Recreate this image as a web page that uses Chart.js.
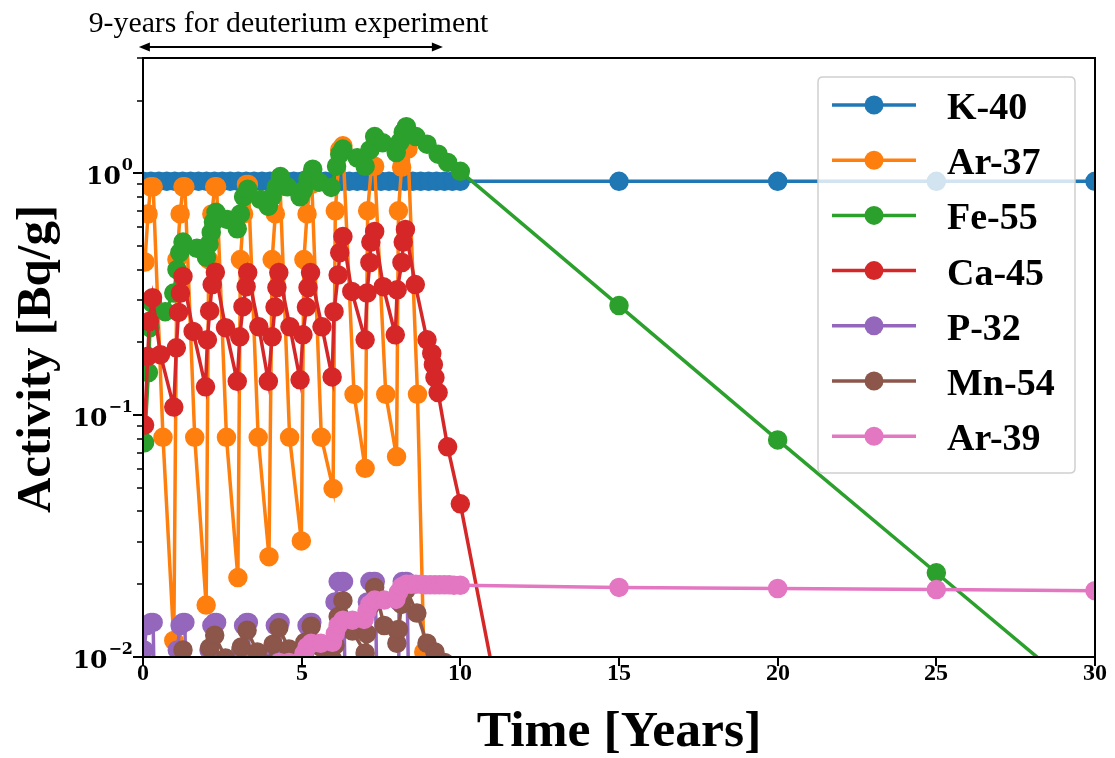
<!DOCTYPE html>
<html><head><meta charset="utf-8">
<script src="https://cdn.jsdelivr.net/npm/chart.js@4.4.0/dist/chart.umd.min.js"></script>
<style>html,body{margin:0;padding:0;background:#fff;}canvas{display:block;}</style>
</head><body>
<canvas id="c" width="1115" height="758"></canvas>
<script>
const seriesNames = ['K-40','Ar-37','Fe-55','Ca-45','P-32','Mn-54','Ar-39'];
const seriesColors = ['#1f77b4','#ff7f0e','#2ca02c','#d62728','#9467bd','#8c564b','#e377c2'];

const k40Time = [0,0.25,0.5,0.75,1,1.25,1.5,1.75,2,2.25,2.5,2.75,3,3.25,3.5,3.75,4,4.25,4.5,4.75,5,5.25,5.5,5.75,6,6.25,6.5,6.75,7,7.25,7.5,7.75,8,8.25,8.5,8.75,9,9.25,9.5,9.75,10,15,20,25,30];
const k40Act  = [0.927,0.927,0.927,0.927,0.927,0.927,0.927,0.927,0.927,0.927,0.927,0.927,0.927,0.927,0.927,0.927,0.927,0.927,0.927,0.927,0.927,0.927,0.927,0.927,0.927,0.927,0.927,0.927,0.927,0.927,0.927,0.927,0.927,0.927,0.927,0.927,0.927,0.927,0.927,0.927,0.927,0.927,0.927,0.927,0.927];

const ar37Time = [0.06,0.16,0.24,0.32,0.63,0.97, 1.07,1.17,1.26,1.32,1.63,1.99, 2.07,2.17,2.26,2.32,2.63,2.99, 3.07,3.17,3.26,3.32,3.63,3.97, 4.07,4.17,4.26,4.32,4.62,4.99, 5.07,5.17,5.26,5.32,5.62,5.99, 6.06,6.2,6.3,6.65,7.0, 7.08,7.2,7.3,7.65,7.99, 8.05,8.15,8.35,8.65,8.85,9.0];
const ar37Act  = [0.43,0.68,0.88,0.88,0.081,0.0117, 0.44,0.68,0.88,0.88,0.081,0.0164, 0.44,0.68,0.88,0.88,0.081,0.0213, 0.44,0.68,0.9,0.9,0.081,0.026, 0.44,0.68,0.88,0.88,0.081,0.0302, 0.44,0.68,0.9,0.9,0.081,0.0497, 0.70,1.25,1.3,0.122,0.0603, 0.70,1.07,1.07,0.122,0.0674, 0.70,1.06,1.26,0.122,0.0105,0.003];

const fe55Time = [0.05,0.17,0.22,0.3,0.7,0.97, 1.07,1.16,1.26,1.7,2.0, 2.08,2.15,2.22,2.3,2.65,2.97, 3.07,3.17,3.3,3.7,3.95, 4.07,4.2,4.33,4.55,4.95, 5.05,5.2,5.35,5.55,5.93, 6.1,6.2,6.3,6.75,7.0, 7.15,7.3,7.55,7.98, 8.1,8.2,8.3,8.6,8.95,9.3,9.6,10, 15,20,25,30];
const fe55Act  = [0.077,0.15,0.23,0.29,0.268,0.32, 0.40,0.47,0.52,0.49,0.45, 0.51,0.57,0.63,0.69,0.645,0.59, 0.68,0.80,0.86,0.78,0.73, 0.80,0.88,0.97,0.88,0.80, 0.85,0.95,1.04,0.92,0.875, 1.07,1.2,1.26,1.16,1.07, 1.25,1.42,1.34,1.22, 1.35,1.48,1.56,1.42,1.32,1.2,1.11,1.02, 0.284,0.079,0.0223,0.0063];

const ca45Time = [0.05,0.15,0.2,0.3,0.55,0.97, 1.05,1.12,1.18,1.26,1.58,1.97, 2.03,2.1,2.18,2.28,2.6,2.97, 3.05,3.15,3.25,3.3,3.65,3.95, 4.07,4.16,4.22,4.28,4.63,4.95, 5.04,5.15,5.2,5.28,5.64,5.96, 6.02,6.15,6.2,6.3,6.58,7.0, 7.06,7.15,7.18,7.3,7.57,7.95, 8.01,8.16,8.2,8.27,8.58,8.95,9.1,9.15,9.2,9.3,9.6,10,15];
const ca45Act  = [0.091,0.175,0.244,0.306,0.178,0.108, 0.19,0.266,0.32,0.375,0.222,0.131, 0.205,0.27,0.347,0.39,0.23,0.138, 0.211,0.281,0.34,0.389,0.232,0.138, 0.211,0.28,0.337,0.389,0.232,0.14, 0.215,0.28,0.337,0.389,0.232,0.144, 0.268,0.38,0.47,0.548,0.325,0.205, 0.32,0.428,0.52,0.575,0.34,0.215, 0.33,0.428,0.52,0.586,0.347,0.205,0.18,0.162,0.143,0.124,0.074,0.043,0.000018];

const p32Time = [0.03,0.12,0.25,0.32,0.62,0.97, 1.08,1.17,1.26,1.32,1.62,1.97, 2.08,2.17,2.26,2.32,2.62,2.97, 3.08,3.17,3.26,3.32,3.62,3.97, 4.08,4.17,4.26,4.32,4.62,4.97, 5.08,5.17,5.26,5.32,5.62,5.97, 6.05,6.15,6.27,6.32,6.62,6.97, 7.07,7.15,7.27,7.32,7.62,7.97, 8.07,8.17,8.27,8.32,8.62];
const p32Act  = [0.0107,0.0135,0.0139,0.0139,0.00005,0.00005, 0.0107,0.0135,0.0139,0.0139,0.00005,0.00005, 0.0107,0.0135,0.0139,0.0139,0.00005,0.00005, 0.0107,0.0135,0.0139,0.0139,0.00005,0.00005, 0.0107,0.0135,0.0139,0.0139,0.00005,0.00005, 0.0107,0.0135,0.0139,0.0139,0.00005,0.00005, 0.0169,0.0205,0.0205,0.0205,0.00005,0.00005, 0.0169,0.0205,0.0205,0.0205,0.00005,0.00005, 0.0169,0.0205,0.0205,0.0205,0.00005];

const mn54Time = [0.1,0.3,0.97, 1.1,1.26,1.6,1.97, 2.1,2.26,2.6,2.97, 3.1,3.28,3.6,3.97, 4.1,4.28,4.6,4.97, 5.1,5.3,5.6,5.97, 6.05,6.15,6.3,6.6,7.0, 7.05,7.15,7.3,7.6,8.0, 8.05,8.15,8.3,8.63,8.95,9.2,9.5,10];
const mn54Act  = [0.003,0.0072,0.0065, 0.0088,0.0107,0.009,0.008, 0.0109,0.0123,0.0099,0.0089, 0.011,0.0129,0.0105,0.0093, 0.0113,0.0132,0.0108,0.0096, 0.0115,0.0134,0.011,0.0098, 0.0112,0.0147,0.0171,0.0128,0.0104, 0.0125,0.0162,0.0194,0.0135,0.0114, 0.013,0.0165,0.019,0.0152,0.0114,0.0105,0.0095,0.0085];

const ar39Time = [4.3,4.6,4.97,5.07,5.17,5.3,5.6,5.97,6.06,6.15,6.3,6.6,6.97,7.06,7.15,7.3,7.6,7.97,8.05,8.15,8.3,8.45,8.6,8.75,8.9,9.05,9.2,9.35,9.5,9.65,9.8,10,15,20,25,30];
const ar39Act  = [0.0095,0.0095,0.0096,0.0103,0.011,0.0114,0.0114,0.0115,0.0125,0.0135,0.0142,0.0142,0.0143,0.0155,0.0165,0.0172,0.0172,0.0173,0.0185,0.0195,0.0200,0.0200,0.0200,0.0200,0.0199,0.0199,0.0199,0.0199,0.0199,0.0199,0.0198,0.0198,0.0194,0.0192,0.0190,0.0188];

const xTickValues = [0,5,10,15,20,25,30];
const yMajorValues = [0.01,0.1,1];
const yMajorExponents = ['\u22122','\u22121','0'];
const yMinorValues = [0.02,0.03,0.04,0.05,0.06,0.07,0.08,0.09,0.2,0.3,0.4,0.5,0.6,0.7,0.8,0.9,2,3];

const allTimes = [k40Time, ar37Time, fe55Time, ca45Time, p32Time, mn54Time, ar39Time];
const allActs  = [k40Act, ar37Act, fe55Act, ca45Act, p32Act, mn54Act, ar39Act];

const datasets = seriesNames.map((name, i) => ({
  label: name,
  data: allTimes[i].map((t, j) => ({x: t, y: allActs[i][j]})),
  borderColor: seriesColors[i],
  backgroundColor: seriesColors[i],
  pointBackgroundColor: seriesColors[i],
  pointBorderColor: seriesColors[i],
  borderWidth: 3.5,
  pointRadius: 9,
  pointBorderWidth: 1.5,
  pointHoverRadius: 9,
  tension: 0,
  order: 7 - i
}));

function fitFont(ctx, text, weight, family, target) {
  ctx.font = weight + ' 100px ' + family;
  return 100 * target / ctx.measureText(text).width;
}

const decor = {
  id: 'decor',
  afterDatasetsDraw(chart) {
    const ctx = chart.ctx, a = chart.chartArea;
    const xs = chart.scales.x, ys = chart.scales.y;
    ctx.save();
    ctx.strokeStyle = '#000'; ctx.fillStyle = '#000';
    ctx.lineWidth = 2;
    ctx.strokeRect(a.left, a.top, a.right - a.left, a.bottom - a.top);
    const serif = '"Liberation Serif", "Times New Roman", serif';
    ctx.font = 'bold 24px ' + serif;
    ctx.textAlign = 'center'; ctx.textBaseline = 'middle';
    xTickValues.forEach(v => {
      const px = Math.round(xs.getPixelForValue(v));
      ctx.lineWidth = 2;
      ctx.beginPath(); ctx.moveTo(px, a.bottom); ctx.lineTo(px, a.bottom + 9); ctx.stroke();
      ctx.fillText(String(v), px, a.bottom + 17);
    });
    yMinorValues.forEach(v => {
      const py = Math.round(ys.getPixelForValue(v));
      if (py < a.top - 0.5) return;
      ctx.lineWidth = 1.5;
      ctx.beginPath(); ctx.moveTo(a.left - 6, py); ctx.lineTo(a.left, py); ctx.stroke();
    });
    const mathFont = '"DejaVu Serif", serif';
    yMajorValues.forEach((v, i) => {
      const py = Math.round(ys.getPixelForValue(v));
      ctx.lineWidth = 2;
      ctx.beginPath(); ctx.moveTo(a.left - 10, py); ctx.lineTo(a.left, py); ctx.stroke();
      ctx.textAlign = 'right'; ctx.textBaseline = 'alphabetic';
      ctx.font = 'bold 16px ' + mathFont;
      const ex = yMajorExponents[i];
      const ew = ctx.measureText(ex).width;
      const right = a.left - 10;
      ctx.fillText(ex, right, py - 3);
      ctx.font = 'bold 25px ' + mathFont;
      ctx.fillText('10', right - ew - 1, py + 11);
    });
    let fs = fitFont(ctx, 'Time [Years]', 'bold', serif, 285);
    ctx.font = 'bold ' + fs.toFixed(1) + 'px ' + serif;
    ctx.textAlign = 'center'; ctx.textBaseline = 'alphabetic';
    ctx.fillText('Time [Years]', (a.left + a.right) / 2, 746);
    fs = fitFont(ctx, 'Activity [Bq/g]', 'bold', serif, 308);
    ctx.save();
    ctx.translate(50, 359); ctx.rotate(-Math.PI / 2);
    ctx.font = 'bold ' + fs.toFixed(1) + 'px ' + serif;
    ctx.textAlign = 'center'; ctx.textBaseline = 'alphabetic';
    ctx.fillText('Activity [Bq/g]', 0, 0);
    ctx.restore();
    fs = fitFont(ctx, '9-years for deuterium experiment', 'normal', serif, 399);
    ctx.font = 'normal ' + fs.toFixed(1) + 'px ' + serif;
    ctx.textAlign = 'center'; ctx.textBaseline = 'alphabetic';
    ctx.fillText('9-years for deuterium experiment', 288.5, 32);
    const x1 = xs.getPixelForValue(-0.13), x2 = xs.getPixelForValue(9.45), ay = 47;
    ctx.lineWidth = 2;
    ctx.beginPath(); ctx.moveTo(x1 + 6, ay); ctx.lineTo(x2 - 6, ay); ctx.stroke();
    ctx.beginPath(); ctx.moveTo(x1, ay); ctx.lineTo(x1 + 11, ay - 4.5); ctx.lineTo(x1 + 11, ay + 4.5); ctx.closePath(); ctx.fill();
    ctx.beginPath(); ctx.moveTo(x2, ay); ctx.lineTo(x2 - 11, ay - 4.5); ctx.lineTo(x2 - 11, ay + 4.5); ctx.closePath(); ctx.fill();
    const lx = 818, ly = 77, lw = 257, lh = 396, r = 5;
    ctx.beginPath();
    ctx.moveTo(lx + r, ly); ctx.lineTo(lx + lw - r, ly); ctx.quadraticCurveTo(lx + lw, ly, lx + lw, ly + r);
    ctx.lineTo(lx + lw, ly + lh - r); ctx.quadraticCurveTo(lx + lw, ly + lh, lx + lw - r, ly + lh);
    ctx.lineTo(lx + r, ly + lh); ctx.quadraticCurveTo(lx, ly + lh, lx, ly + lh - r);
    ctx.lineTo(lx, ly + r); ctx.quadraticCurveTo(lx, ly, lx + r, ly); ctx.closePath();
    ctx.fillStyle = 'rgba(255,255,255,0.8)'; ctx.fill();
    ctx.strokeStyle = '#d0d0d0'; ctx.lineWidth = 1.5; ctx.stroke();
    chart.data.datasets.forEach((ds, i) => {
      const ry = 105 + 55.2 * i;
      ctx.strokeStyle = ds.borderColor; ctx.lineWidth = 3.5;
      ctx.beginPath(); ctx.moveTo(832, ry); ctx.lineTo(916, ry); ctx.stroke();
      ctx.fillStyle = ds.borderColor;
      ctx.beginPath(); ctx.arc(874, ry, 9.5, 0, Math.PI * 2); ctx.fill();
      ctx.fillStyle = '#000';
      ctx.font = 'bold 38px ' + serif;
      ctx.textAlign = 'left'; ctx.textBaseline = 'alphabetic';
      ctx.fillText(ds.label, 947, ry + 14);
    });
    ctx.restore();
  }
};

new Chart(document.getElementById('c'), {
  type: 'line',
  data: { datasets },
  options: {
    responsive: false,
    animation: false,
    devicePixelRatio: 1,
    layout: { padding: { left: 143, right: 20, top: 58, bottom: 101 } },
    plugins: { legend: { display: false }, tooltip: { enabled: false } },
    scales: {
      x: { type: 'linear', min: 0, max: 30, display: false },
      y: { type: 'logarithmic', min: 0.01, max: 3.0, display: false }
    }
  },
  plugins: [decor]
});
</script>
</body></html>
